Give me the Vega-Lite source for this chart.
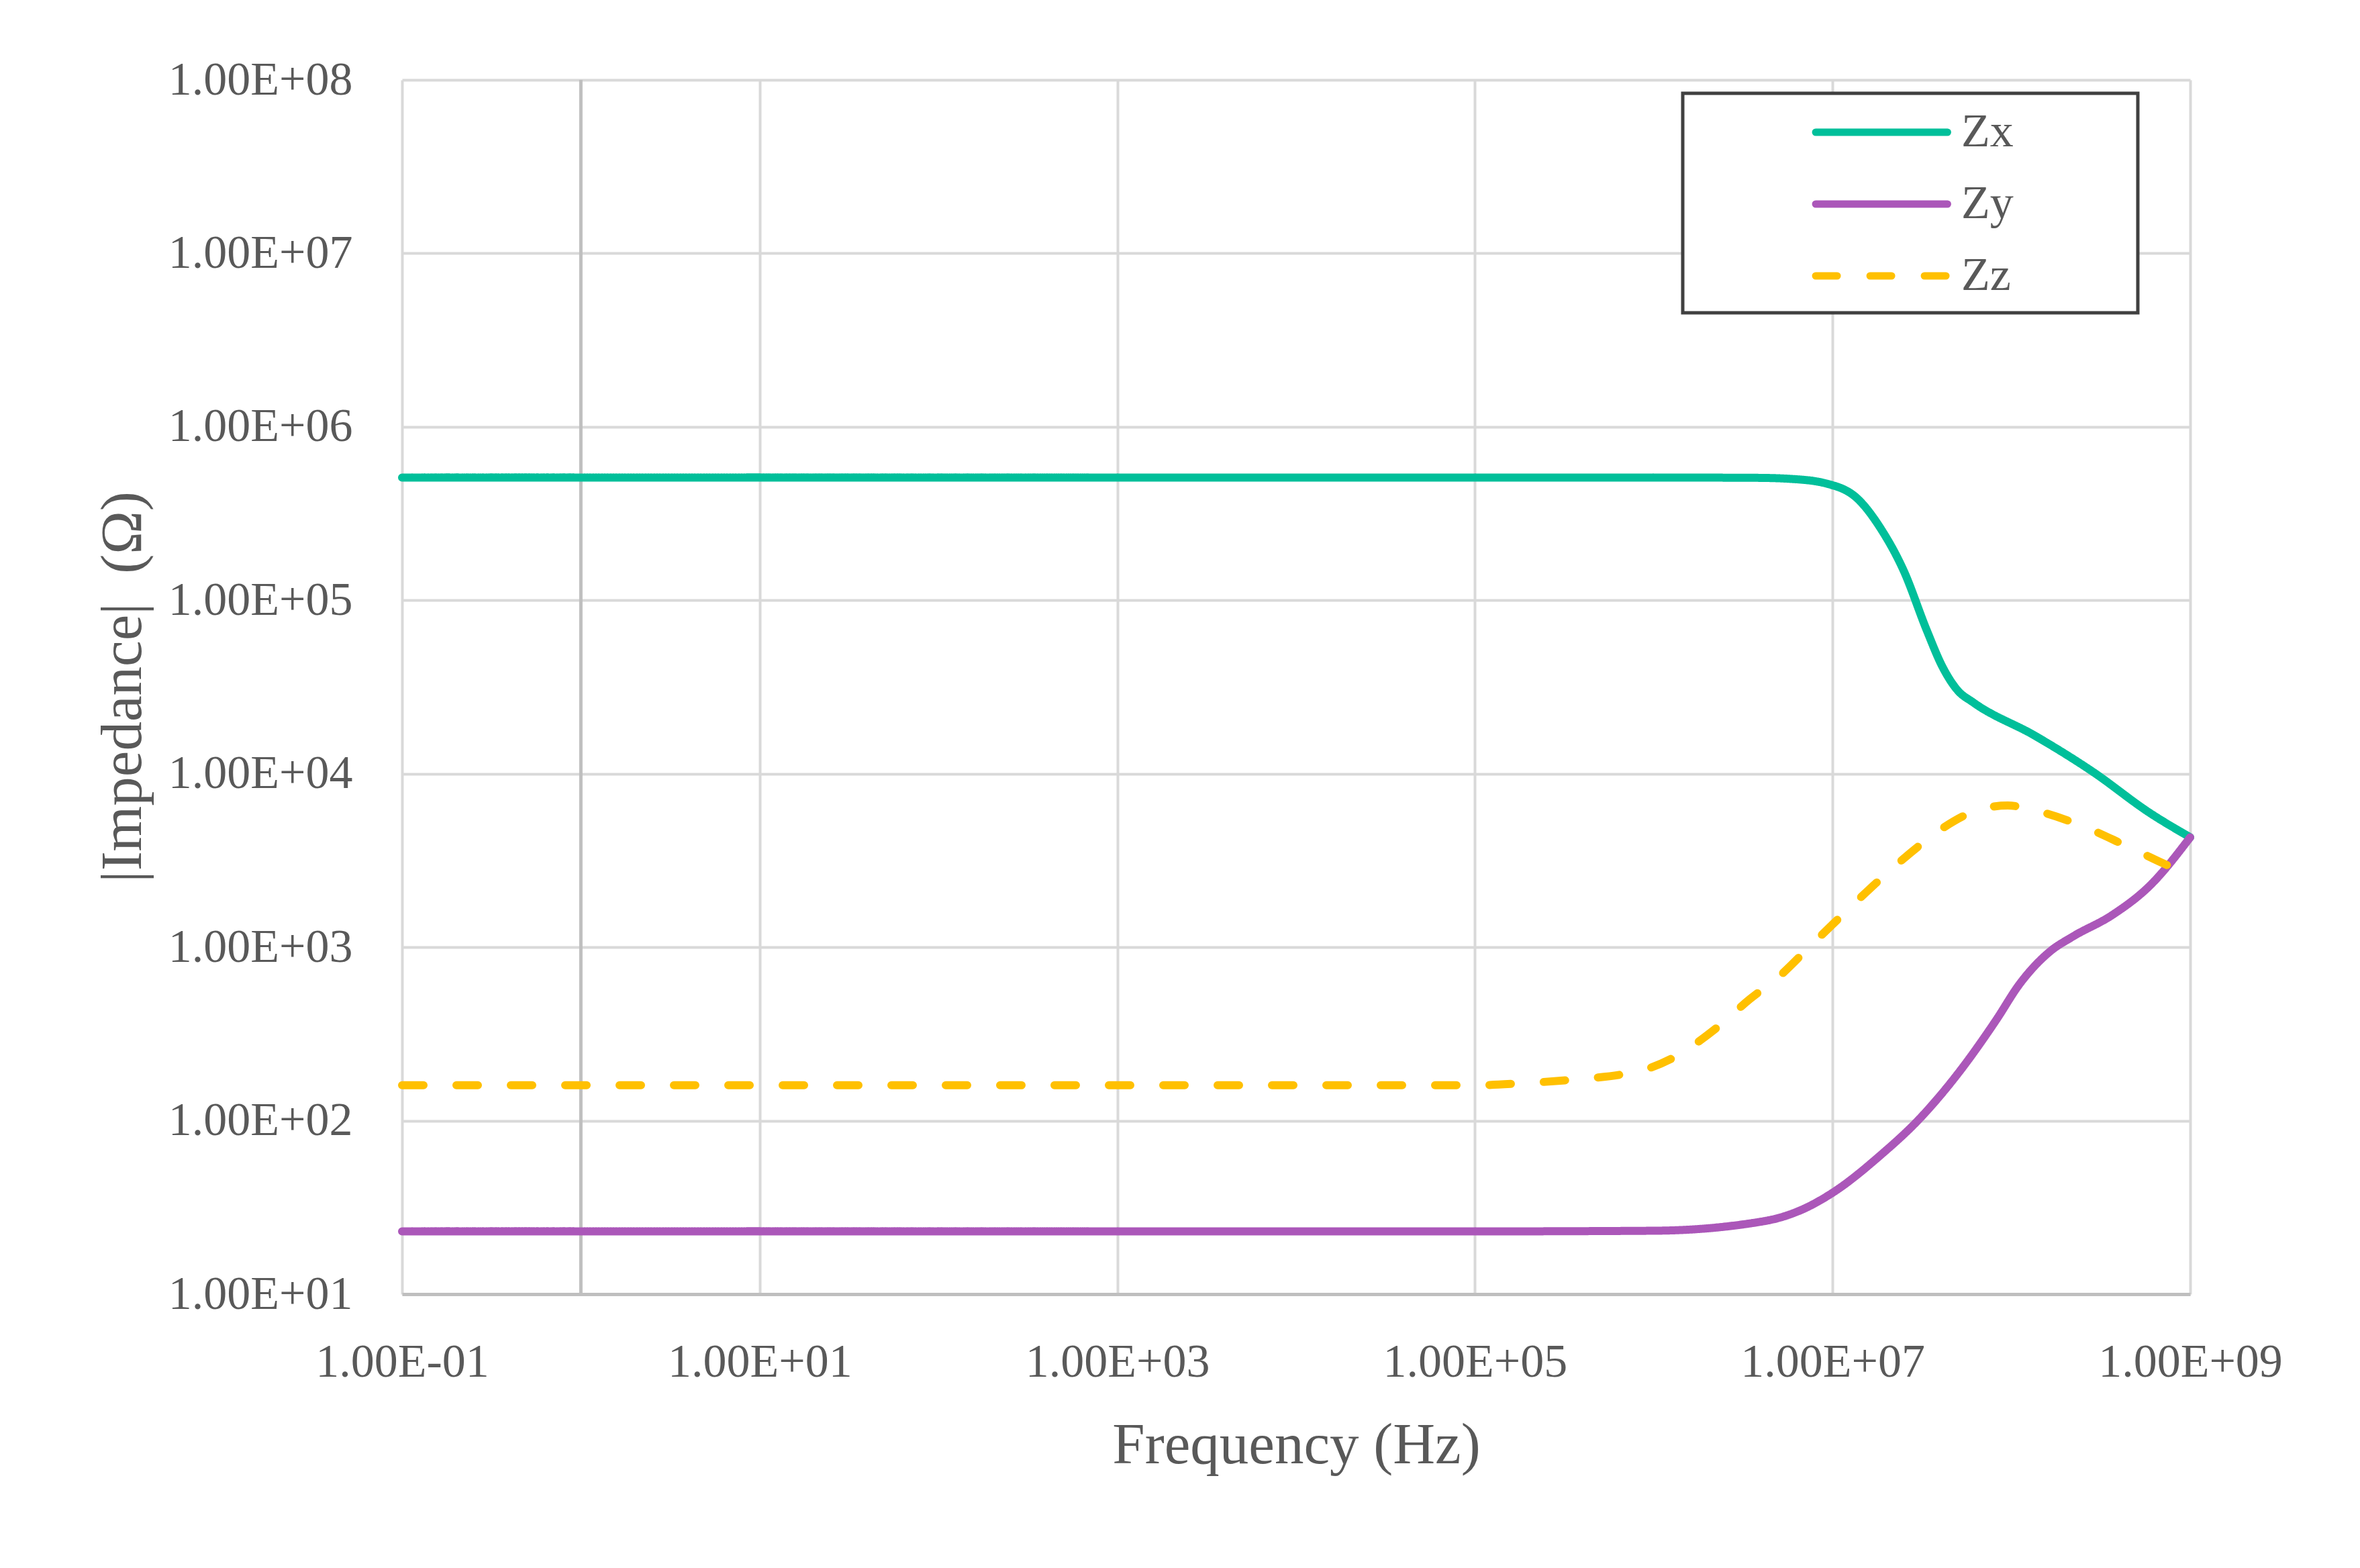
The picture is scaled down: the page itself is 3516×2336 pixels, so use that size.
{
  "$schema": "https://vega.github.io/schema/vega-lite/v6.json",
  "width": 2664,
  "height": 1809,
  "autosize": {"type": "none"},
  "padding": {"left": 599, "top": 119, "right": 253, "bottom": 408},
  "background": "white",
  "config": {
    "view": {"stroke": null},
    "font": "Liberation Serif",
    "axis": {
      "labelFont": "Liberation Serif",
      "titleFont": "Liberation Serif",
      "labelFontSize": 70,
      "titleFontSize": 87,
      "labelColor": "#595959",
      "titleColor": "#595959",
      "titleFontWeight": "normal",
      "gridColor": "#d9d9d9",
      "gridWidth": 4,
      "ticks": false,
      "labelLimit": 500,
      "labelOverlap": false,
      "labelFlush": false,
      "labelBound": false
    }
  },
  "layer": [
    {
      "data": {"values": [{"f": 1}]},
      "mark": {"type": "rule", "color": "#bfbfbf", "strokeWidth": 5},
      "encoding": {
        "x": {
          "field": "f", "type": "quantitative", "title": "Frequency (Hz)",
          "scale": {"type": "log", "domain": [0.1, 1000000000], "nice": false},
          "axis": {
            "values": [0.1, 10, 1000, 100000, 10000000, 1000000000],
            "labelExpr": "'1.00E' + (round(log(datum.value)/LN10) < 0 ? '-' : '+') + '0' + abs(round(log(datum.value)/LN10))",
            "domainColor": "#bfbfbf", "domainWidth": 5, "labelPadding": 67, "titlePadding": 46
          }
        }
      }
    },
    {
      "data": {
        "values": [
          {"series": "Zx", "f": 0.1, "z": 510000},
          {"series": "Zx", "f": 1000, "z": 510000},
          {"series": "Zx", "f": 100000, "z": 510000},
          {"series": "Zx", "f": 1000000, "z": 510000},
          {"series": "Zx", "f": 3800000, "z": 508000},
          {"series": "Zx", "f": 6000000, "z": 500000},
          {"series": "Zx", "f": 9300000, "z": 470000},
          {"series": "Zx", "f": 13800000, "z": 385000},
          {"series": "Zx", "f": 18600000, "z": 259000},
          {"series": "Zx", "f": 25000000, "z": 148000},
          {"series": "Zx", "f": 33700000, "z": 66800},
          {"series": "Zx", "f": 41100000, "z": 41500},
          {"series": "Zx", "f": 50100000, "z": 30200},
          {"series": "Zx", "f": 61100000, "z": 25800},
          {"series": "Zx", "f": 135000000, "z": 16600},
          {"series": "Zx", "f": 284000000, "z": 10300},
          {"series": "Zx", "f": 598000000, "z": 5920},
          {"series": "Zx", "f": 1000000000, "z": 4300},
          {"series": "Zy", "f": 0.1, "z": 23},
          {"series": "Zy", "f": 1000, "z": 23},
          {"series": "Zy", "f": 100000, "z": 23},
          {"series": "Zy", "f": 1000000, "z": 23.2},
          {"series": "Zy", "f": 4190000, "z": 26.4},
          {"series": "Zy", "f": 6890000, "z": 31},
          {"series": "Zy", "f": 10000000, "z": 38.4},
          {"series": "Zy", "f": 18600000, "z": 63.4},
          {"series": "Zy", "f": 30500000, "z": 102},
          {"series": "Zy", "f": 50100000, "z": 186},
          {"series": "Zy", "f": 82200000, "z": 380},
          {"series": "Zy", "f": 111000000, "z": 612},
          {"series": "Zy", "f": 165000000, "z": 948},
          {"series": "Zy", "f": 222000000, "z": 1156},
          {"series": "Zy", "f": 365000000, "z": 1528},
          {"series": "Zy", "f": 598000000, "z": 2275},
          {"series": "Zy", "f": 1000000000, "z": 4300},
          {"series": "Zz", "f": 0.1, "z": 160},
          {"series": "Zz", "f": 1000, "z": 160},
          {"series": "Zz", "f": 100000, "z": 160},
          {"series": "Zz", "f": 178000, "z": 164},
          {"series": "Zz", "f": 390000, "z": 174},
          {"series": "Zz", "f": 668000, "z": 185},
          {"series": "Zz", "f": 946000, "z": 201},
          {"series": "Zz", "f": 1340000, "z": 236},
          {"series": "Zz", "f": 2200000, "z": 337},
          {"series": "Zz", "f": 3440000, "z": 501},
          {"series": "Zz", "f": 5120000, "z": 690},
          {"series": "Zz", "f": 7600000, "z": 1028},
          {"series": "Zz", "f": 11300000, "z": 1528},
          {"series": "Zz", "f": 17700000, "z": 2366},
          {"series": "Zz", "f": 26300000, "z": 3388},
          {"series": "Zz", "f": 41100000, "z": 4842},
          {"series": "Zz", "f": 67500000, "z": 6252},
          {"series": "Zz", "f": 95500000, "z": 6561},
          {"series": "Zz", "f": 135000000, "z": 6152},
          {"series": "Zz", "f": 245000000, "z": 5035},
          {"series": "Zz", "f": 445000000, "z": 3819},
          {"series": "Zz", "f": 826000000, "z": 2844},
          {"series": "Zz", "f": 1000000000, "z": 2650}
        ]
      },
      "mark": {"type": "line", "strokeWidth": 12, "strokeCap": "round", "strokeJoin": "round", "interpolate": "monotone"},
      "encoding": {
        "x": {
          "field": "f", "type": "quantitative", "title": "Frequency (Hz)",
          "scale": {"type": "log", "domain": [0.1, 1000000000], "nice": false},
          "axis": {
            "values": [0.1, 10, 1000, 100000, 10000000, 1000000000],
            "labelExpr": "'1.00E' + (round(log(datum.value)/LN10) < 0 ? '-' : '+') + '0' + abs(round(log(datum.value)/LN10))",
            "domainColor": "#bfbfbf", "domainWidth": 5, "labelPadding": 67, "titlePadding": 46
          }
        },
        "y": {
          "field": "z", "type": "quantitative", "title": "|Impedance|\u00a0 (Ω)",
          "scale": {"type": "log", "domain": [10, 100000000], "nice": false},
          "axis": {
            "values": [10, 100, 1000, 10000, 100000, 1000000, 10000000, 100000000],
            "labelExpr": "'1.00E+0' + round(log(datum.value)/LN10)",
            "domain": false, "labelPadding": 74,
            "titleX": -372, "titleY": 904, "titleAngle": 270, "titleBaseline": "bottom", "titleAlign": "center"
          }
        },
        "color": {
          "field": "series", "type": "nominal",
          "scale": {"domain": ["Zx", "Zy", "Zz"], "range": ["#00bf9a", "#ab57b9", "#ffc000"]},
          "legend": {
            "orient": "none", "legendX": 1908, "legendY": 20,
            "title": ".", "titleOrient": "right", "titleColor": "white", "titleFontSize": 20, "titlePadding": 160,
            "symbolType": "M4.33,0H10.4", "symbolSize": 4186, "symbolStrokeWidth": 11,
            "labelFont": "Liberation Serif", "labelFontSize": 70, "labelColor": "#595959", "labelOffset": 319,
            "rowPadding": 34, "padding": 20, "strokeColor": "#404040", "fillColor": "white",
            "encode": {
              "symbols": {"update": {"strokeCap": {"value": "round"}}},
              "legend": {"update": {"strokeWidth": {"value": 5}}}
            }
          }
        },
        "strokeDash": {
          "field": "series", "type": "nominal",
          "scale": {"domain": ["Zx", "Zy", "Zz"], "range": [[1, 0], [1, 0], [32, 49]]},
          "legend": {
            "orient": "none", "legendX": 1908, "legendY": 20,
            "title": ".", "titleOrient": "right", "titleColor": "white", "titleFontSize": 20, "titlePadding": 160,
            "symbolType": "M4.33,0H10.4", "symbolSize": 4186, "symbolStrokeWidth": 11,
            "labelFont": "Liberation Serif", "labelFontSize": 70, "labelColor": "#595959", "labelOffset": 319,
            "rowPadding": 34, "padding": 20, "strokeColor": "#404040", "fillColor": "white",
            "encode": {
              "symbols": {"update": {"strokeCap": {"value": "round"}}},
              "legend": {"update": {"strokeWidth": {"value": 5}}}
            }
          }
        }
      }
    }
  ]
}
